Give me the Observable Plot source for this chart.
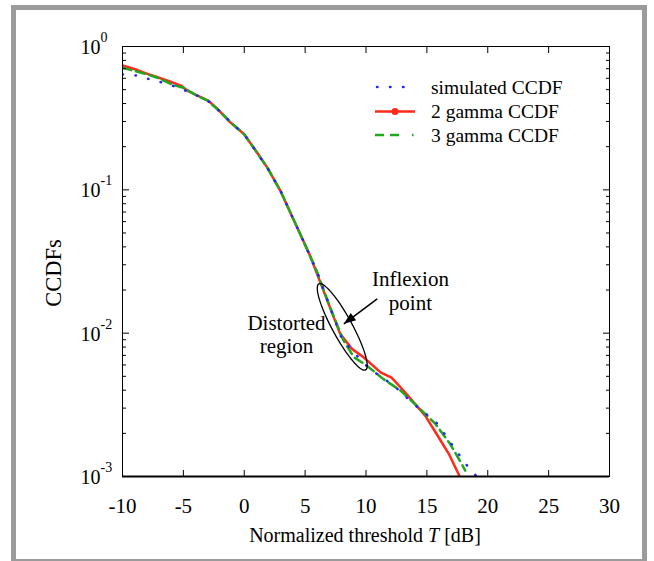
<!DOCTYPE html>
<html><head><meta charset="utf-8">
<script src="https://cdn.jsdelivr.net/npm/d3@7"></script>
<script src="https://cdn.jsdelivr.net/npm/@observablehq/plot@0.6"></script>
<style>
html,body{margin:0;padding:0;background:#fff;overflow:hidden;}
#wrap{position:relative;width:654px;height:561px;font-family:"Liberation Serif","Times New Roman",serif;color:#000;}
#frame{position:absolute;left:11px;top:5px;width:636px;height:559px;border:5px solid #9b9b9b;box-sizing:border-box;pointer-events:none;}
#chart{position:absolute;left:0;top:0;}
#xlabel{position:absolute;left:165px;width:400px;top:523px;line-height:24px;text-align:center;font-size:20px;white-space:nowrap;}
#ylabel{position:absolute;left:54px;top:273px;font-size:22.5px;white-space:nowrap;transform:translate(-50%,-50%) rotate(-90deg);}
#legend{position:absolute;left:0;top:0;pointer-events:none;}
</style>
</head><body>
<div id="wrap">
  <div id="chart"></div>
  <div id="xlabel">Normalized threshold <i>T</i> [dB]</div>
  <div id="ylabel">CCDFs</div>
  <svg id="legend" width="654" height="561"></svg>
  <div id="frame"></div>
</div>
<script>
// ---- data ----
const seriesNames = ["simulated CCDF", "2 gamma CCDF", "3 gamma CCDF"];

const T_sim = [-10, -8.8, -7.7, -6.55, -5.5, -4, -3, -2, -1, 0, 1, 2, 3, 4, 5, 6, 7, 8, 9.5, 10.3, 11.3, 12.3, 13.9, 14.86, 15.7, 16.4, 17.7, 18.4, 19.1];
const ccdf_sim = [0.638, 0.627, 0.589, 0.555, 0.52, 0.46, 0.419, 0.352, 0.289, 0.244, 0.184, 0.138, 0.0973, 0.0634, 0.0413, 0.0265, 0.0155, 0.0092, 0.0066, 0.00563, 0.00492, 0.0043, 0.00321, 0.00276, 0.00243, 0.00201, 0.0014, 0.00116, 0.001];

const T_2g = [-10, -9.1, -8, -7, -6, -5.2, -4.6, -2.9, -2.2, -1.15, -0.05, 1.04, 1.87, 2.96, 4, 5.4, 6.24, 7.88, 8.84, 9.8, 11.2, 12.1, 13.08, 13.9, 14.86, 15.8, 16.8, 17.7];
const ccdf_2g = [0.737, 0.699, 0.647, 0.605, 0.565, 0.534, 0.488, 0.415, 0.367, 0.296, 0.246, 0.183, 0.144, 0.0989, 0.0634, 0.0348, 0.0227, 0.00989, 0.00777, 0.00679, 0.00533, 0.0049, 0.00398, 0.0033, 0.00266, 0.00198, 0.00144, 0.001];

const T_3g = [-10, -9.36, -8, -7, -5.9, -5, -4, -3, -2, -1, 0, 1, 2, 3, 4, 5, 6, 7, 8.15, 9, 10, 11.4, 12.8, 14.45, 15.7, 16.9, 17.87, 18.15];
const ccdf_3g = [0.71, 0.687, 0.64, 0.6, 0.541, 0.515, 0.46, 0.419, 0.352, 0.289, 0.244, 0.184, 0.138, 0.0973, 0.0634, 0.0413, 0.0265, 0.0155, 0.0089, 0.0068, 0.006, 0.0048, 0.004, 0.00296, 0.00233, 0.00169, 0.00122, 0.0011];

const xTicks = [-10, -5, 0, 5, 10, 15, 20, 25, 30];
const yMajor = [1, 0.1, 0.01, 0.001];
const yMinor = [];
for (const d of [0.001, 0.01, 0.1]) for (let k = 2; k <= 9; k++) yMinor.push(+(k * d).toPrecision(3));

// annotations (data coordinates)
const ellipseAt = [{T: 8.05, v: 0.01106}];
const arrowAt = [{x1: 10.92, y1: 0.01735, x2: 8.18, y2: 0.01161}];
const notes = [
  {T: 13.65, v: 0.0198, text: "Inflexion\npoint"},
  {T: 3.47, v: 0.0098, text: "Distorted\nregion"}
];

const colors = {sim: "#2323ff", g2: "#ff2a1a", g3: "#1fa81f"};

const sim = T_sim.map((T, i) => ({T, v: ccdf_sim[i]}));
const g2 = T_2g.map((T, i) => ({T, v: ccdf_2g[i]}));
const g3 = T_3g.map((T, i) => ({T, v: ccdf_3g[i]}));

const ellipseSymbol = {draw(ctx) {
  const a = 49, b = 10, n = 90;
  for (let i = 0; i <= n; i++) {
    const t = 2 * Math.PI * i / n, px = a * Math.cos(t), py = b * Math.sin(t);
    if (i === 0) ctx.moveTo(px, py); else ctx.lineTo(px, py);
  }
  ctx.closePath();
}};
const headSymbol = {draw(ctx) {
  ctx.moveTo(0, 0); ctx.lineTo(-4.5, 12); ctx.lineTo(4.5, 12); ctx.closePath();
}};

const noText = () => "";
const chart = Plot.plot({
  width: 654, height: 561,
  marginLeft: 122, marginRight: 45, marginTop: 46, marginBottom: 85,
  style: {fontFamily: "Liberation Serif, Times New Roman, serif", fontSize: "21px", background: "transparent", color: "black"},
  x: {domain: [-10, 30]},
  y: {type: "log", domain: [0.001, 1]},
  marks: [
    Plot.line(g2, {x: "T", y: "v", stroke: colors.g2, strokeWidth: 2.5, clip: true}),
    Plot.line(g3, {x: "T", y: "v", stroke: colors.g3, strokeWidth: 2.5, strokeDasharray: "9,5", clip: true}),
    Plot.line(sim, {x: "T", y: "v", stroke: colors.sim, strokeWidth: 2.5, strokeDasharray: "0.5,12.5", strokeLinecap: "round", clip: true}),
    Plot.dot(ellipseAt, {x: "T", y: "v", symbol: ellipseSymbol, r: 1, rotate: 61.5, stroke: "black", fill: "none", strokeWidth: 1.3}),
    Plot.link(arrowAt, {x1: "x1", y1: "y1", x2: "x2", y2: "y2", stroke: "black", strokeWidth: 1.5}),
    Plot.dot(arrowAt, {x: "x2", y: "y2", symbol: headSymbol, r: 1, rotate: 233, fill: "black", stroke: "none"}),
    Plot.text(notes, {x: "T", y: "v", text: "text", fontSize: 21, lineHeight: 1.1, fill: "black"}),
    Plot.frame({stroke: "black", strokeWidth: 1}),
    Plot.ruleY([0.001], {stroke: "black", strokeWidth: 2}),
    // x axis labels and inward ticks
    Plot.axisX(xTicks, {anchor: "bottom", tickSize: 0, tickPadding: 22, tickFormat: d => String(d), fontSize: 21, label: null}),
    Plot.axisX(xTicks, {anchor: "bottom", tickSize: 6, dy: -6, tickFormat: noText, label: null}),
    Plot.axisX(xTicks, {anchor: "top", tickSize: 6, dy: 6, tickFormat: noText, label: null}),
    // y axis inward ticks
    Plot.axisY(yMajor, {anchor: "left", tickSize: 7, dx: 7, tickFormat: noText, label: null}),
    Plot.axisY(yMinor, {anchor: "left", tickSize: 4, dx: 4, tickFormat: noText, label: null}),
    Plot.axisY(yMajor, {anchor: "right", tickSize: 7, dx: -7, tickFormat: noText, label: null}),
    Plot.axisY(yMinor, {anchor: "right", tickSize: 4, dx: -4, tickFormat: noText, label: null}),
    // y tick labels 10^k
    Plot.text(yMajor, {y: d => d, frameAnchor: "left", text: () => "10", textAnchor: "end", dx: -22, dy: 1, fontSize: 20, fill: "black"}),
    Plot.text(yMajor, {y: d => d, frameAnchor: "left", text: d => String(Math.round(Math.log10(d))), textAnchor: "start", dx: -22, dy: -9, fontSize: 14, fill: "black"})
  ]
});
document.getElementById("chart").appendChild(chart);

// legend
const lg = d3.select("#legend");
const rows = [
  {name: seriesNames[0], color: colors.sim, dash: "0.5,12.5", cap: "round", dot: false},
  {name: seriesNames[1], color: colors.g2, dash: null, cap: "butt", dot: true},
  {name: seriesNames[2], color: colors.g3, dash: "9,6,9,13,1.5", cap: "butt", dot: false}
];
const rowY = [87, 111.5, 135];
rows.forEach((r, i) => {
  const y = rowY[i];
  lg.append("line").attr("x1", r.dash === "0.5,12.5" ? 377 : 375).attr("x2", 415).attr("y1", y).attr("y2", y)
    .attr("stroke", r.color).attr("stroke-width", 2.5).attr("stroke-linecap", r.cap)
    .attr("stroke-dasharray", r.dash);
  if (r.dot) lg.append("circle").attr("cx", 395).attr("cy", y).attr("r", 3.5).attr("fill", r.color);
  lg.append("text").attr("x", 431).attr("y", y).attr("dy", "0.35em")
    .attr("font-family", "Liberation Serif, Times New Roman, serif").attr("font-size", 19.5)
    .text(r.name);
});
</script>
</body></html>
